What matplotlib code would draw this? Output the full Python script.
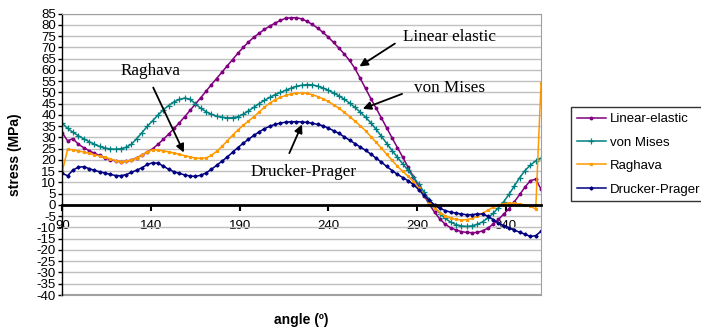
import matplotlib.pyplot as plt

plt.rcParams['font.family'] = ['Liberation Sans', 'DejaVu Sans']
plt.rcParams['axes.unicode_minus'] = False

# angle samples (deg), every 3 degrees from 90 to 360
angle = list(range(90, 361, 3))

linear_elastic = [32, 28.5, 29.5, 27, 25.5, 24.2, 23, 22, 21, 20.2,
                  19.6, 19.2, 19.4, 20, 21, 22.2, 23.5, 25, 27, 29.2,
                  31.5, 34, 36.5, 39.2, 42, 44.8, 47.6, 50.5, 53.4, 56.2,
                  59, 61.8, 64.6, 67.4, 70, 72.4, 74.5, 76.3, 78, 79.5,
                  80.8, 82, 83, 83.2, 83.2, 82.7, 81.6, 80.2, 78.6, 76.7,
                  74.6, 72.2, 69.7, 67.1, 64.2, 60.7, 56.3, 51.8, 47.3, 43,
                  38.6, 34.2, 29.8, 25.5, 21.2, 16.8, 12.5, 8.3, 4.2, 0.3,
                  -3.3, -6.3, -8.6, -10.1, -11.1, -11.8, -12.2, -12.3, -12.2, -11.5,
                  -10.3, -8.5, -6.4, -4, -1.6, 1.5, 4.7, 8, 10.8, 11.5,
                  7]

von_mises = [36.3, 34, 32.3, 30.8, 29.4, 28.2, 27, 26, 25.3, 24.9,
             24.8, 25, 25.6, 27, 29.5, 32.2, 35, 37.5, 40, 42.3,
             44.2, 45.8, 46.9, 47.5, 47, 45, 43, 41.5, 40.3, 39.5,
             39, 38.7, 38.8, 39.2, 40.3, 41.8, 43.4, 45, 46.5, 47.8,
             49, 50, 51, 51.9, 52.7, 53.2, 53.5, 53.4, 52.8, 52,
             51, 49.8, 48.5, 47, 45.3, 43.4, 41.3, 39, 36.5, 33.6,
             30.5, 27.3, 24.2, 21.2, 18.3, 15.4, 12.4, 9.2, 5.8, 2.3,
             -1, -3.8, -6, -7.6, -8.7, -9.3, -9.5, -9.3, -8.6, -7.5,
             -5.8, -3.7, -1.2, 1.5, 4.8, 8.5, 12.2, 15.3, 17.7, 19.6,
             20.8]

raghava = [15, 24.8, 24.5, 24, 23.5, 23, 22.3, 21.8, 21.2, 20.5,
           19.7, 19.3, 19.4, 20, 21, 22.3, 23.6, 24.6, 24.5, 24,
           23.6, 23.1, 22.5, 21.9, 21.4, 20.9, 20.7, 20.9, 22, 23.8,
           26, 28.5, 31, 33.3, 35.4, 37.3, 39.2, 41.3, 43.4, 45.3,
           46.7, 47.8, 48.7, 49.3, 49.7, 49.8, 49.6, 49, 48.2, 47.2,
           46, 44.5, 43, 41.2, 39.3, 37.3, 35.2, 33, 30.4, 27.8,
           25.2, 22.5, 19.8, 17.2, 14.9, 12.8, 10.3, 7.5, 4.5, 1.5,
           -1.3, -3.4, -4.8, -5.8, -6.4, -6.6, -6.5, -6, -5, -3.7,
           -2.3, -1, 0, 0.6, 0.8, 0.7, 0.4, 0, -0.6, -1.8,
           54]

drucker_prager = [14, 13, 15.5, 16.8, 17, 16.2, 15.4, 14.8, 14.2, 13.6,
                  13.1, 13, 13.5, 14.5, 15.5, 16.6, 18, 18.8, 18.5, 17.3,
                  15.8, 14.8, 14, 13.4, 12.9, 12.7, 13.2, 14.2, 15.8, 17.6,
                  19.4, 21.3, 23.4, 25.5, 27.4, 29.2, 30.9, 32.5, 33.9, 35,
                  35.8, 36.4, 36.8, 37, 37, 36.9, 36.7, 36.3, 35.8, 35.2,
                  34.2, 33, 31.8, 30.3, 28.8, 27.3, 25.8, 24.3, 22.6, 20.8,
                  19, 17.1, 15.3, 13.6, 12.2, 10.8, 9.1, 6.8, 4.3, 2,
                  0, -1.5, -2.5, -3.2, -3.6, -4, -4.3, -4.3, -4, -4,
                  -5, -6.5, -8, -9.2, -10.3, -11.2, -12.1, -13, -14, -13.6,
                  -11.7]

fig = plt.figure(figsize=(7.01, 3.33), dpi=100)
ax = fig.add_axes([0.0889, 0.1141, 0.6829, 0.8448])

ax.plot(angle, linear_elastic, color='#800080', lw=1.1, marker='o', ms=1.8, label='Linear-elastic')
ax.plot(angle, von_mises, color='#008080', lw=1.1, marker='+', ms=4, mew=0.9, label='von Mises')
ax.plot(angle, raghava, color='#FF9900', lw=1.1, marker='s', ms=1.3, label='Raghava')
ax.plot(angle, drucker_prager, color='#000080', lw=1.1, marker='D', ms=1.6, label='Drucker-Prager')

ax.set_xlim(90, 360)
ax.set_ylim(-40, 85)
ax.set_xticks(range(90, 361, 50))
ax.set_yticks(range(-40, 86, 5))

# horizontal gridlines and grey plot-area border
ax.grid(axis='y', color='#c0c0c0', lw=1)
ax.set_axisbelow(True)
ax.spines['bottom'].set_position(('data', 0))
ax.spines['bottom'].set_linewidth(2)
ax.spines['left'].set_linewidth(1)
ax.spines['top'].set_color('#a0a0a0')
ax.spines['right'].set_color('#a0a0a0')
ax.axhline(-40, color='#a0a0a0', lw=1.5, clip_on=False)

ax.tick_params(axis='x', direction='out', length=4, width=1.5, pad=7, labelsize=9.5)
ax.tick_params(axis='y', direction='out', length=3, width=1, pad=1.5, labelsize=9.5)

ax.set_ylabel('stress (MPa)', fontsize=10, fontweight='bold', va='center')
ax.yaxis.set_label_coords(-0.0988, 0.5)
ax.set_xlabel('angle (º)', fontsize=10, fontweight='bold', va='center')
ax.xaxis.set_label_coords(0.5, -0.089)

# labels with arrows for each curve
serif = dict(family=['Liberation Serif', 'DejaVu Serif'], fontsize=12.3)
arrow = dict(arrowstyle='-|>', color='black', lw=1.3, mutation_scale=12)
ax.annotate('', xy=(256.3, 60.9), xytext=(278.9, 72.4), arrowprops=arrow)
ax.text(282.3, 74.6, 'Linear elastic', ha='left', va='center', **serif)
ax.annotate('', xy=(258, 42.3), xytext=(283.1, 49.8), arrowprops=arrow)
ax.text(288.5, 52.1, 'von Mises', ha='left', va='center', **serif)
ax.annotate('', xy=(159.2, 22.2), xytext=(140.6, 53.3), arrowprops=arrow)
ax.text(139.5, 59.5, 'Raghava', ha='center', va='center', **serif)
ax.annotate('', xy=(225.8, 36.9), xytext=(217.4, 21.9), arrowprops=arrow)
ax.text(225.9, 14.8, 'Drucker-Prager', ha='center', va='center', **serif)

leg = fig.legend(loc='upper left', bbox_to_anchor=(0.8145, 0.6787), fontsize=9.5,
                 frameon=True, fancybox=False, edgecolor='black', borderaxespad=0,
                 borderpad=0.45, labelspacing=0.85, handlelength=2.2, handletextpad=0.3)
leg.get_frame().set_linewidth(1)

fig.savefig('out.png', dpi=100)
